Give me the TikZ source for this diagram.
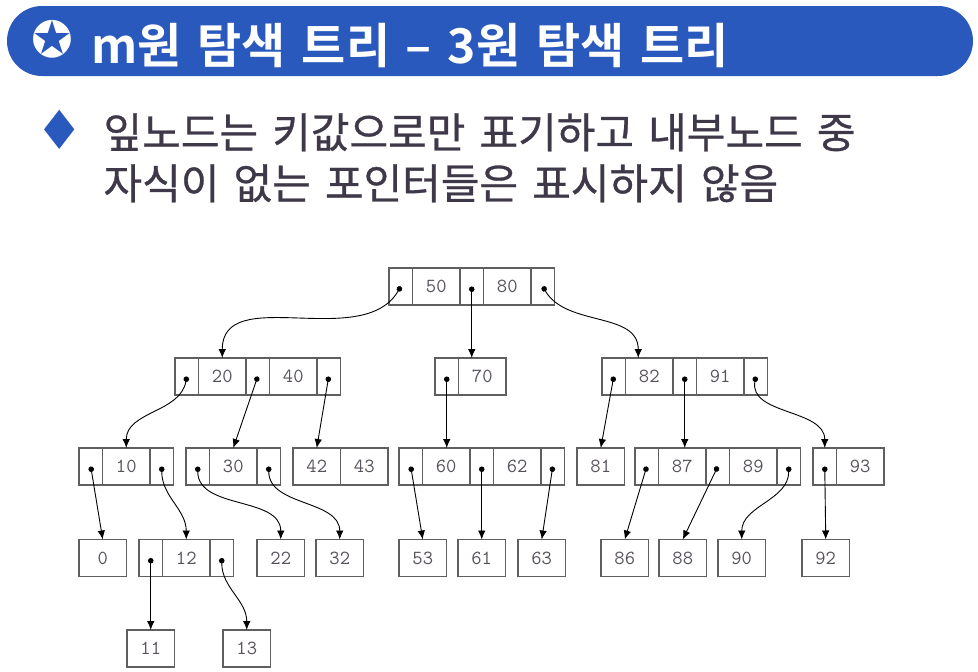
\documentclass[tikz,border=0pt]{standalone}
\usepackage{fontspec}
\usepackage{tikz}
\usetikzlibrary{arrows.meta, positioning}
\newfontfamily\hangulfont{Noto Sans CJK KR}[FakeBold=0.7, WordSpace=1.5]
\newfontfamily\titlefont{Noto Sans CJK KR Bold}[WordSpace=1.45]
\newfontfamily\symbolfont{DejaVu Sans}
\definecolor{bannerblue}{RGB}{42,89,189}
\definecolor{bodygray}{RGB}{62,56,72}
\definecolor{boxgray}{RGB}{95,95,95}
\definecolor{keygray}{RGB}{88,82,92}

\begin{document}
\begin{tikzpicture}[
		x=1pt, y=-1pt,
		banner/.style={rectangle, fill=bannerblue, rounded corners=35pt,
			minimum width=966pt, minimum height=70pt, inner sep=0pt},
		ptr/.style={rectangle, draw=boxgray, line width=1.1pt, minimum width=23.5pt,
			minimum height=37pt, inner sep=0pt, outer sep=0pt},
		key/.style={ptr, minimum width=47.5pt, text=keygray,
			font=\ttfamily\fontsize{20}{20}\selectfont},
		link/.style={{Circle[length=5.5pt]}-{Latex[length=9pt, width=7.5pt]}, line width=0.9pt, black},
		bodytext/.style={anchor=base west, text=bodygray,
			font=\hangulfont\fontsize{42}{42}\selectfont}
		]
		\useasboundingbox (0,0) rectangle (978,672);
		\fill[white] (0,0) rectangle (978,672);

		\node[banner] (head) at (490,41) {};
		\node[text=white, font=\symbolfont\fontsize{50}{50}\selectfont] (badge) at (52,39) {✪};
		\node[anchor=base west, text=white, font=\titlefont\fontsize{48}{48}\selectfont] (title) at (88,63) {m원 탐색 트리 – 3원 탐색 트리};

		\node[text=bannerblue, font=\symbolfont\fontsize{54}{54}\selectfont] (bullet) at (60,130) {♦};
		\node[bodytext] (line1) at (100,148) {잎노드는 키값으로만 표기하고 내부노드 중};
		\node[bodytext] (line2) at (100,199) {자식이 없는 포인터들은 표시하지 않음};

		\node[ptr, anchor=west] (r0) at (389,286.5) {};
		\node[key, right=0pt of r0] (k50) {50};
		\node[ptr, right=0pt of k50] (r1) {};
		\node[key, right=0pt of r1] (k80) {80};
		\node[ptr, right=0pt of k80] (r2) {};

		\node[ptr, anchor=west] (a0) at (175,376.5) {};
		\node[key, right=0pt of a0] (k20) {20};
		\node[ptr, right=0pt of k20] (a1) {};
		\node[key, right=0pt of a1] (k40) {40};
		\node[ptr, right=0pt of k40] (a2) {};

		\node[ptr, anchor=west] (b0) at (435,376.5) {};
		\node[key, right=0pt of b0] (k70) {70};

		\node[ptr, anchor=west] (c0) at (602,376.5) {};
		\node[key, right=0pt of c0] (k82) {82};
		\node[ptr, right=0pt of k82] (c1) {};
		\node[key, right=0pt of c1] (k91) {91};
		\node[ptr, right=0pt of k91] (c2) {};

		\node[ptr, anchor=west] (d0) at (79,466.5) {};
		\node[key, right=0pt of d0] (k10) {10};
		\node[ptr, right=0pt of k10] (d1) {};

		\node[ptr, anchor=west] (e0) at (186,466.5) {};
		\node[key, right=0pt of e0] (k30) {30};
		\node[ptr, right=0pt of k30] (e1) {};

		\node[key, anchor=west] (k42) at (293,466.5) {42};
		\node[key, right=0pt of k42] (k43) {43};

		\node[ptr, anchor=west] (f0) at (399,466.5) {};
		\node[key, right=0pt of f0] (k60) {60};
		\node[ptr, right=0pt of k60] (f1) {};
		\node[key, right=0pt of f1] (k62) {62};
		\node[ptr, right=0pt of k62] (f2) {};

		\node[key, anchor=west] (k81) at (577,466.5) {81};

		\node[ptr, anchor=west] (g0) at (635,466.5) {};
		\node[key, right=0pt of g0] (k87) {87};
		\node[ptr, right=0pt of k87] (g1) {};
		\node[key, right=0pt of g1] (k89) {89};
		\node[ptr, right=0pt of k89] (g2) {};

		\node[ptr, anchor=west] (h0) at (813,466.5) {};
		\node[key, right=0pt of h0] (k93) {93};

		\node[key, anchor=west] (k0) at (79,558) {0};
		\node[ptr, anchor=west] (i0) at (139,558) {};
		\node[key, right=0pt of i0] (k12) {12};
		\node[ptr, right=0pt of k12] (i1) {};
		\node[key, anchor=west] (k22) at (257,558) {22};
		\node[key, anchor=west] (k32) at (316,558) {32};
		\node[key, anchor=west] (k53) at (399,558) {53};
		\node[key, anchor=west] (k61) at (458,558) {61};
		\node[key, anchor=west] (k63) at (518,558) {63};
		\node[key, anchor=west] (k86) at (601,558) {86};
		\node[key, anchor=west] (k88) at (659,558) {88};
		\node[key, anchor=west] (k90) at (718,558) {90};
		\node[key, anchor=west] (k92) at (802,558) {92};

		\node[key, anchor=west] (k11) at (127,648.5) {11};
		\node[key, anchor=west] (k13) at (223,648.5) {13};

		\draw[link] (r0.center) to[out=-120, in=90] (k20.north);
		\draw[link] (r1.center) -- (r1 |- k70.north);
		\draw[link] (r2.center) to[out=-60, in=90] ([xshift=-11pt]k82.north);
		\draw[link] (a0.center) to[out=-100, in=90] (k10.north);
		\draw[link] (a1.center) -- (k30.north);
		\draw[link] (a2.center) -- (k42.north);
		\draw[link] (b0.center) -- (b0 |- k60.north);
		\draw[link] (c0.center) -- (k81.north);
		\draw[link] (c1.center) -- (c1 |- k87.north);
		\draw[link] (c2.center) to[out=-100, in=90] (h0.north);
		\draw[link] (d0.center) -- (k0.north);
		\draw[link] (d1.center) to[out=-90, in=90] (k12.north);
		\draw[link] (e0.center) to[out=-90, in=90] (k22.north);
		\draw[link] (e1.center) to[out=-90, in=90] (k32.north);
		\draw[link] (f0.center) -- (k53.north);
		\draw[link] (f1.center) -- (f1 |- k61.north);
		\draw[link] (f2.center) -- (k63.north);
		\draw[link] (g0.center) -- (k86.north);
		\draw[link] (g1.center) -- (k88.north);
		\draw[link] (g2.center) to[out=-90, in=90] (k90.north);
		\draw[link] (h0.center) -- (k92.north);
		\draw[link] (i0.center) -- (i0 |- k11.north);
		\draw[link] (i1.center) to[out=-90, in=90] (k13.north);
\end{tikzpicture}
\end{document}
